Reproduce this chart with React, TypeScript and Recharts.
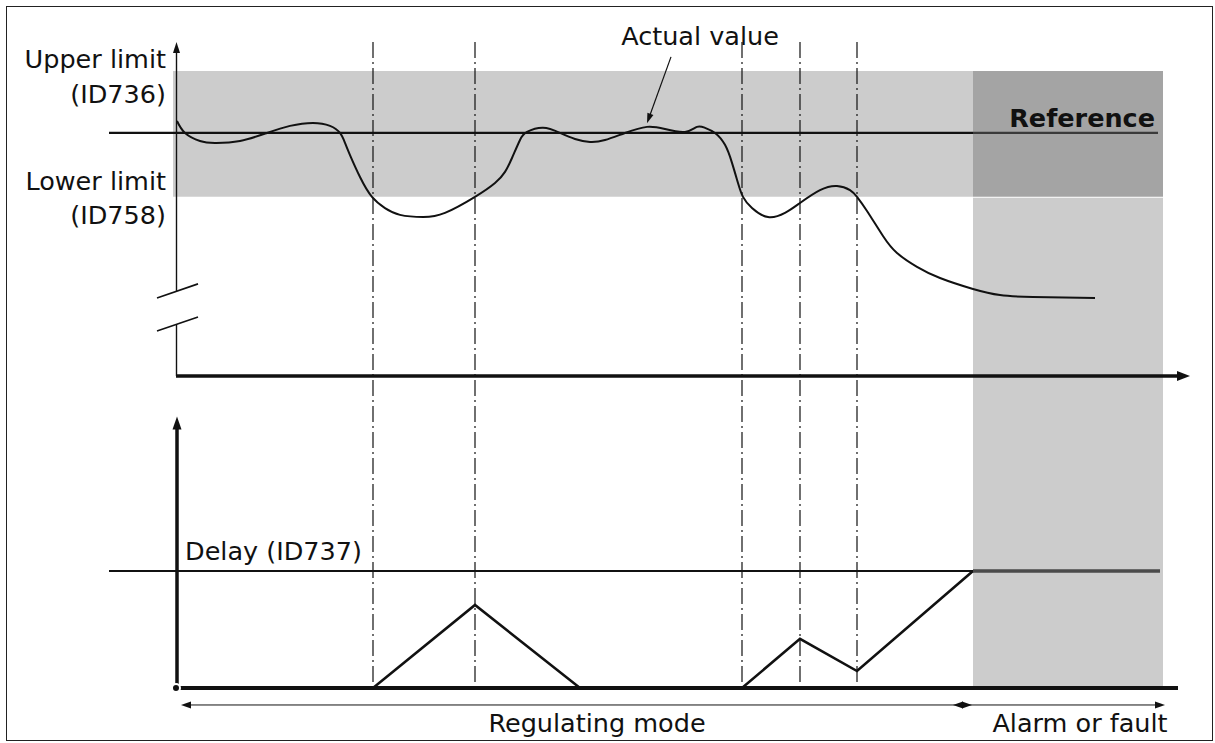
import React from "react";
import {
  ComposedChart,
  Line,
  XAxis,
  YAxis,
  ReferenceArea,
  ReferenceLine,
  ReferenceDot,
} from "recharts";

// time axis (one unit ~ 10 px), process value axis (top), delay counter axis (bottom)
const T_DOMAIN = [-17.6, 103.9];
const PV_DOMAIN = [-151.0, 154.7];
const DELAY_DOMAIN = [-4.7, 58.8];

const REFERENCE = 100;
const UPPER_LIMIT = 125.5;
const LOWER_LIMIT = 73.7;
const DELAY = 10;
const ALARM_START = 79.7;
const ALARM_END = 98.7;

// times where actual value crosses a limit
const eventTimes = [19.7, 29.9, 56.6, 62.4, 68.1];

const actualT = [
  0.1, 0.9, 2.4, 3.9, 6.4, 9.1, 11.4, 13.7, 15.4, 16.4, 16.9, 17.4, 18.4, 19.6,
  20.9, 22.4, 24.7, 26.9, 29.9, 31.9, 32.9, 33.6, 34.4, 35.1, 36.7, 38.4, 39.9,
  41.4, 42.9, 44.9, 47.1, 48.9, 50.9, 52.1, 52.9, 53.9, 54.9, 55.6, 56.2, 56.7,
  57.6, 59.2, 60.9, 62.4, 64.4, 66.1, 67.4, 68.1, 69.1, 70.7, 72.1, 74.1, 76.4,
  79.7, 82.4, 85.7, 91.9,
];
const actualV = [
  104.9, 100.0, 96.7, 95.9, 96.7, 100.0, 102.9, 104.1, 102.9, 100.0, 95.9, 90.9,
  81.9, 73.7, 69.1, 66.3, 65.4, 67.1, 73.7, 79.4, 84.0, 89.7, 97.1, 100.4, 102.1,
  100.0, 97.5, 96.3, 97.1, 100.0, 102.5, 101.6, 100.4, 102.5, 102.1, 100.0, 95.1,
  87.7, 79.4, 73.7, 69.1, 65.4, 67.1, 71.2, 76.5, 78.2, 76.5, 73.7, 67.9, 57.6,
  50.6, 44.9, 40.3, 35.8, 33.3, 32.5, 32.1,
];

const timerT = [0, 19.7, 29.9, 40.4, 56.6, 62.4, 68.1, ALARM_START];
const timerV = [0, 0, 7.1, 0, 0, 4.2, 1.45, DELAY];

const limitLabels = ["Upper limit", "(ID736)", "Lower limit", "(ID758)"];
const modeLabels = ["Regulating mode", "Alarm or fault"];

const actualData = actualT.map((t, i) => ({ t, v: actualV[i] }));
const timerData = timerT.map((t, i) => ({ t, v: timerV[i] }));
const holdData = [
  { t: ALARM_START, v: DELAY },
  { t: 98.4, v: DELAY },
];

const FONT = "'DejaVu Sans', Verdana, sans-serif";
const INK = "#111";

const arrow =
  (o: { w: number; color: string; len: number; half: number; start?: boolean; end?: boolean }) =>
  (p: any) => {
    const { x1, y1, x2, y2 } = p;
    const a = Math.atan2(y2 - y1, x2 - x1);
    const cx = Math.cos(a);
    const sx = Math.sin(a);
    const head = (x: number, y: number, dir: number) => {
      const bx = x - dir * o.len * cx;
      const by = y - dir * o.len * sx;
      return (
        <polygon
          points={`${x},${y} ${bx - sx * o.half},${by + cx * o.half} ${bx + sx * o.half},${by - cx * o.half}`}
          fill={o.color}
        />
      );
    };
    const s = o.start ? o.len * 0.8 : 0;
    const e = o.end ? o.len * 0.8 : 0;
    return (
      <g>
        <line
          x1={x1 + cx * s}
          y1={y1 + sx * s}
          x2={x2 - cx * e}
          y2={y2 - sx * e}
          stroke={o.color}
          strokeWidth={o.w}
        />
        {o.end && head(x2, y2, 1)}
        {o.start && head(x1, y1, -1)}
      </g>
    );
  };

const label =
  (text: string, anchor: "start" | "middle" | "end", bold = false, size = 25.5) =>
  (p: any) =>
    (
      <text
        x={p.cx}
        y={p.cy}
        textAnchor={anchor}
        fontFamily={FONT}
        fontSize={size}
        fontWeight={bold ? 700 : 400}
        fill={INK}
      >
        {text}
      </text>
    );

export default function App() {
  return (
    <div style={{ position: "absolute", left: 0, top: 0, width: 1215, height: 743, background: "#fff" }}>
      <div
        style={{
          position: "absolute",
          left: 6,
          top: 6,
          width: 1207,
          height: 735,
          boxSizing: "border-box",
          border: "1.5px solid #222",
        }}
      />
      <div style={{ position: "absolute", left: 0, top: 0 }}>
        <ComposedChart width={1215} height={743} margin={{ top: 0, right: 0, bottom: 0, left: 0 }}>
          <XAxis type="number" dataKey="t" domain={T_DOMAIN} allowDataOverflow hide />
          <YAxis yAxisId="pv" type="number" domain={PV_DOMAIN} allowDataOverflow hide />
          <YAxis yAxisId="delay" type="number" domain={DELAY_DOMAIN} allowDataOverflow hide />

          {/* limit band and alarm column */}
          <ReferenceArea yAxisId="pv" x1={-0.3} x2={ALARM_START} y1={LOWER_LIMIT} y2={UPPER_LIMIT} fill="#cccccc" fillOpacity={1} stroke="none" ifOverflow="visible" />
          <ReferenceArea yAxisId="pv" x1={ALARM_START} x2={ALARM_END} y1={LOWER_LIMIT} y2={UPPER_LIMIT} fill="#a4a4a4" fillOpacity={1} stroke="none" ifOverflow="visible" />
          <ReferenceArea yAxisId="delay" x1={ALARM_START} x2={ALARM_END} y1={0} y2={41.9} fill="#cccccc" fillOpacity={1} stroke="none" ifOverflow="visible" />

          {/* event markers */}
          {eventTimes.map((t) => (
            <ReferenceLine
              key={t}
              yAxisId="pv"
              segment={[{ x: t, y: 137.4 }, { x: t, y: -128.4 }]}
              stroke={INK}
              strokeWidth={1.2}
              strokeDasharray="16 4 2 4"
              ifOverflow="visible"
            />
          ))}

          {/* reference and delay levels */}
          <ReferenceLine yAxisId="pv" segment={[{ x: -6.7, y: REFERENCE }, { x: ALARM_START, y: REFERENCE }]} stroke={INK} strokeWidth={2.2} ifOverflow="visible" />
          <ReferenceLine yAxisId="pv" segment={[{ x: ALARM_START, y: REFERENCE }, { x: 98.2, y: REFERENCE }]} stroke="#3a3a3a" strokeWidth={2.2} ifOverflow="visible" />
          <ReferenceLine yAxisId="delay" segment={[{ x: -6.7, y: DELAY }, { x: ALARM_START, y: DELAY }]} stroke={INK} strokeWidth={2} ifOverflow="visible" />

          {/* axes of the top panel */}
          <ReferenceLine yAxisId="pv" segment={[{ x: 0.05, y: 35.0 }, { x: 0.05, y: 137.4 }]} shape={arrow({ w: 1.4, color: INK, len: 11, half: 3.5, end: true })} ifOverflow="visible" />
          <ReferenceLine yAxisId="pv" segment={[{ x: 0.05, y: 0 }, { x: 0.05, y: 21.4 }]} stroke={INK} strokeWidth={1.4} ifOverflow="visible" />
          <ReferenceLine yAxisId="pv" segment={[{ x: -1.9, y: 32.1 }, { x: 2.2, y: 37.9 }]} stroke={INK} strokeWidth={1.6} ifOverflow="visible" />
          <ReferenceLine yAxisId="pv" segment={[{ x: -1.9, y: 18.5 }, { x: 2.2, y: 24.3 }]} stroke={INK} strokeWidth={1.6} ifOverflow="visible" />
          <ReferenceLine yAxisId="pv" segment={[{ x: 0, y: 0 }, { x: 101.4, y: 0 }]} shape={arrow({ w: 3.5, color: INK, len: 13, half: 5, end: true })} ifOverflow="visible" />

          {/* axes of the bottom panel */}
          <ReferenceLine yAxisId="delay" segment={[{ x: 0.1, y: 0 }, { x: 0.1, y: 23.2 }]} shape={arrow({ w: 3.5, color: INK, len: 13, half: 4.5, end: true })} ifOverflow="visible" />
          <ReferenceLine yAxisId="delay" segment={[{ x: -0.05, y: 0 }, { x: 100.2, y: 0 }]} stroke={INK} strokeWidth={3.8} ifOverflow="visible" />

          <Line yAxisId="pv" data={actualData} dataKey="v" type="natural" stroke={INK} strokeWidth={2} dot={false} isAnimationActive={false} />
          <Line yAxisId="delay" data={timerData} dataKey="v" type="linear" stroke={INK} strokeWidth={2.6} dot={false} isAnimationActive={false} />
          <Line yAxisId="delay" data={holdData} dataKey="v" type="linear" stroke="#4a4a4a" strokeWidth={3.5} dot={false} isAnimationActive={false} />

          {/* mode spans */}
          <ReferenceLine yAxisId="delay" segment={[{ x: 0.5, y: -1.45 }, { x: ALARM_START - 0.1, y: -1.45 }]} shape={arrow({ w: 1, color: INK, len: 10, half: 3.5, start: true, end: true })} ifOverflow="visible" />
          <ReferenceLine yAxisId="delay" segment={[{ x: 77.7, y: -1.45 }, { x: 98.9, y: -1.45 }]} shape={arrow({ w: 1, color: INK, len: 10, half: 3.5, start: true, end: true })} ifOverflow="visible" />

          {/* annotations */}
          <ReferenceLine yAxisId="pv" segment={[{ x: 49.5, y: 131.3 }, { x: 47.1, y: 104.0 }]} shape={arrow({ w: 1.2, color: INK, len: 10, half: 3.2, end: true })} ifOverflow="visible" />
          <ReferenceDot yAxisId="pv" x={52.4} y={136.2} r={0} shape={label("Actual value", "middle")} ifOverflow="visible" />
          <ReferenceDot yAxisId="pv" x={97.9} y={102.5} r={0} shape={label("Reference", "end", true)} ifOverflow="visible" />
          <ReferenceDot yAxisId="pv" x={-1.0} y={126.7} r={0} shape={label(limitLabels[0], "end")} ifOverflow="visible" />
          <ReferenceDot yAxisId="pv" x={-1.0} y={112.3} r={0} shape={label(limitLabels[1], "end")} ifOverflow="visible" />
          <ReferenceDot yAxisId="pv" x={-1.0} y={76.5} r={0} shape={label(limitLabels[2], "end")} ifOverflow="visible" />
          <ReferenceDot yAxisId="pv" x={-1.0} y={62.5} r={0} shape={label(limitLabels[3], "end")} ifOverflow="visible" />
          <ReferenceDot yAxisId="delay" x={0.9} y={10.94} r={0} shape={label("Delay (ID737)", "start")} ifOverflow="visible" />
          <ReferenceDot yAxisId="delay" x={42.1} y={-3.76} r={0} shape={label(modeLabels[0], "middle")} ifOverflow="visible" />
          <ReferenceDot yAxisId="delay" x={90.4} y={-3.76} r={0} shape={label(modeLabels[1], "middle")} ifOverflow="visible" />
        </ComposedChart>
      </div>
    </div>
  );
}
